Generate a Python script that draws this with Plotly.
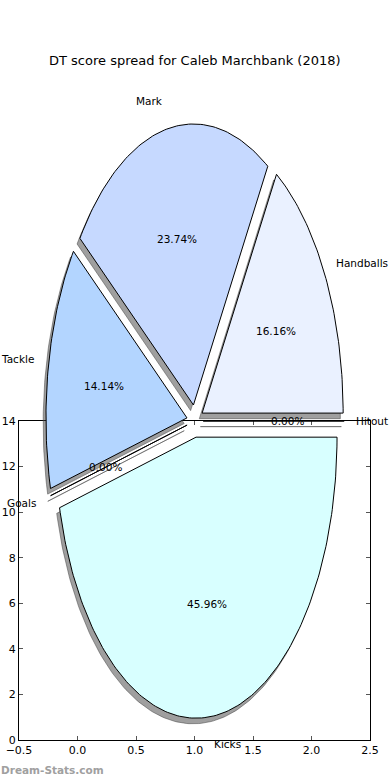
import numpy as np
import plotly.graph_objects as go

# ---- data ----
categories = ["Handballs", "Mark", "Tackle", "Goals", "Kicks", "Hitout"]
points = [32, 47, 28, 0, 91, 0]
colors = ["#eaf1ff", "#c6d9ff", "#b3d5ff", "#d8ffff", "#d8ffff", "#d8ffff"]
explode = 0.058
title = "DT score spread for Caleb Marchbank (2018)"

W, H = 390, 780
# pie geometry in pixels (elliptical pie, as in the reference)
cx_px, cy_px, rx_px, ry_px = 195, 421, 141, 281

fig = go.Figure()

# main (background) axes frame
fig.update_layout(
    xaxis=dict(domain=[19 / W, 370 / W], range=[-0.5, 2.5], dtick=0.5, tickformat=".1f",
               showline=True, mirror="ticks", linecolor="black", linewidth=1,
               ticks="inside", ticklen=4, tickcolor="#555", showgrid=False, zeroline=False,
               tickfont=dict(family="DejaVu Sans", size=11, color="black"), automargin=False),
    yaxis=dict(domain=[40 / H, 359 / H], range=[0, 14], dtick=2,
               showline=True, mirror="ticks", linecolor="black", linewidth=1,
               ticks="inside", ticklen=4, tickcolor="#555", showgrid=False, zeroline=False,
               tickfont=dict(family="DejaVu Sans", size=11, color="black"), automargin=False),
)
# invisible trace so main axes render
fig.add_trace(go.Scatter(x=[None], y=[None], xaxis="x", yaxis="y", showlegend=False, hoverinfo="skip"))

# pie axes covering whole figure: 1 unit = rx px horizontally, ry px vertically
x2_range = [-cx_px / rx_px, (W - cx_px) / rx_px]
y2_range = [(cy_px - H) / ry_px, cy_px / ry_px]
fig.update_layout(
    xaxis2=dict(domain=[0, 1], range=x2_range, visible=False, anchor="y2"),
    yaxis2=dict(domain=[0, 1], range=y2_range, visible=False, anchor="x2"),
)

total = sum(points)
theta = 0.0
annotations = []
for cat, val, col in zip(categories, points, colors):
    frac = val / total
    t1 = theta
    t2 = theta + frac * 360.0
    theta = t2
    mid = np.deg2rad((t1 + t2) / 2)
    ox, oy = explode * np.cos(mid), explode * np.sin(mid)
    angs = np.deg2rad(np.linspace(t1, t2, max(2, int(abs(t2 - t1)) + 2)))
    xs = np.concatenate([[ox], ox + np.cos(angs), [ox]])
    ys = np.concatenate([[oy], oy + np.sin(angs), [oy]])
    # shadow
    fig.add_trace(go.Scatter(x=xs - 0.02, y=ys - 0.02, xaxis="x2", yaxis="y2", mode="lines",
                             fill="toself", fillcolor="rgba(64,64,64,0.5)",
                             line=dict(color="rgba(64,64,64,0.5)", width=1),
                             showlegend=False, hoverinfo="skip"))
    # wedge
    fig.add_trace(go.Scatter(x=xs, y=ys, xaxis="x2", yaxis="y2", mode="lines",
                             fill="toself", fillcolor=col,
                             line=dict(color="black", width=1),
                             showlegend=False, hoverinfo="skip"))
    # labels
    right = np.cos(mid) > 0
    lx, ly = ox + 1.1 * np.cos(mid), oy + 1.1 * np.sin(mid)
    annotations.append(dict(x=lx, y=ly, xref="x2", yref="y2", text=cat, showarrow=False,
                            xanchor="left" if right else "right", yanchor="middle",
                            xshift=-3 if right else 0, borderpad=0,
                            font=dict(family="DejaVu Sans", size=10.5, color="black")))
    px_, py_ = ox + 0.6 * np.cos(mid), oy + 0.6 * np.sin(mid)
    annotations.append(dict(x=px_, y=py_, xref="x2", yref="y2", text=f"{frac * 100:.2f}%",
                            showarrow=False, xanchor="center", yanchor="middle", borderpad=0,
                            font=dict(family="DejaVu Sans", size=10.5, color="black")))

annotations.append(dict(x=0.5, y=1 - 61 / H, xref="paper", yref="paper", text=title,
                        showarrow=False, xanchor="center", yanchor="middle",
                        font=dict(family="DejaVu Sans", size=13, color="black")))
annotations.append(dict(x=0, y=1 - 770 / H, xref="paper", yref="paper", text="<b>Dream-Stats.com</b>",
                        showarrow=False, xanchor="left", yanchor="middle", borderpad=0,
                        font=dict(family="DejaVu Sans", size=10.5, color="#a0a0a0")))

fig.update_layout(width=W, height=H, margin=dict(l=0, r=0, t=0, b=0),
                  paper_bgcolor="white", plot_bgcolor="rgba(0,0,0,0)",
                  annotations=annotations, showlegend=False)

fig.write_html("out.html", config={"displayModeBar": False},
               post_script="document.body.style.margin='0';document.body.style.overflow='hidden';")
